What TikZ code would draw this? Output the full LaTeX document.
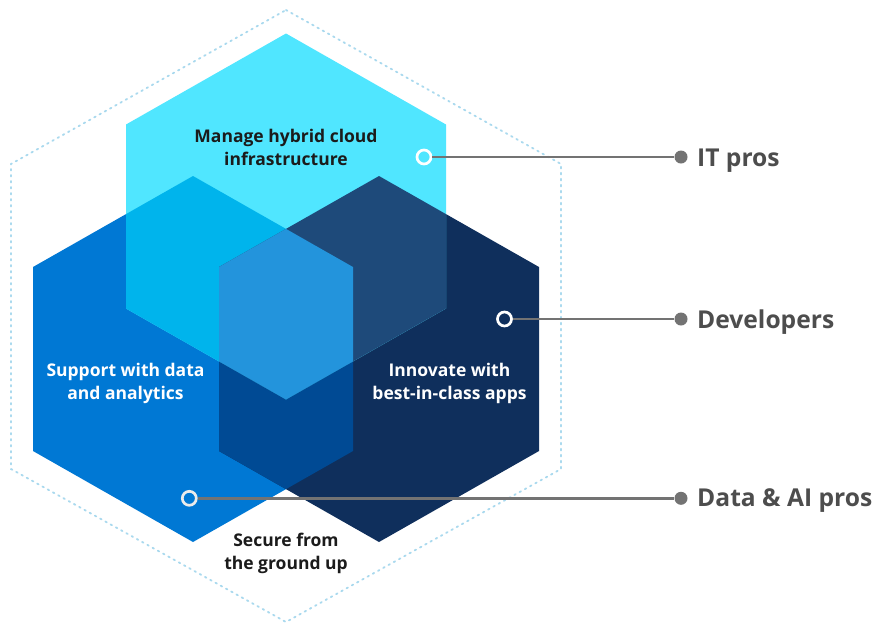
\documentclass[tikz,border=0pt]{standalone}
\usepackage{fontspec}
\setmainfont{Open Sans}
\definecolor{cC}{HTML}{50E6FF}
\definecolor{cL}{HTML}{0078D4}
\definecolor{cR}{HTML}{0F2F5C}
\definecolor{cCL}{HTML}{00B4EC}
\definecolor{cCR}{HTML}{1E4A7A}
\definecolor{cLR}{HTML}{004A94}
\definecolor{cLRC}{HTML}{2394DC}
\definecolor{dashc}{HTML}{A9D9EE}
\definecolor{linec}{HTML}{737373}
\definecolor{labc}{HTML}{4D4D4D}
\definecolor{darktxt}{HTML}{1B1B1B}
\def\hexat#1#2{(#1,#2) -- (#1+160,#2+91) -- (#1+160,#2+275) -- (#1,#2+366) -- (#1-160,#2+275) -- (#1-160,#2+91) -- cycle}
\def\hexC{\hexat{286}{33.5}}
\def\hexL{\hexat{193}{176}}
\def\hexR{\hexat{379}{176}}
\begin{document}
\begin{tikzpicture}[x=1pt,y=-1pt,
  outerhex/.style={draw=dashc, line width=1.8pt, dash pattern=on 1.6pt off 4.4pt, line cap=round},
  hextxt/.style={font=\bfseries\fontsize{17.5}{22}\selectfont, anchor=base, inner sep=0pt},
  ring/.style={circle, draw=white, line width=2.7pt, minimum size=14pt, inner sep=0pt},
  dotn/.style={circle, fill=linec, minimum size=13pt, inner sep=0pt},
  conn/.style={draw=linec, line width=2.8pt},
  lbl/.style={font=\bfseries\fontsize{24.6}{30}\selectfont, text=labc, anchor=base west, inner sep=0pt}]
\useasboundingbox (0,0) rectangle (877,625);
\fill[white] (0,0) rectangle (877,625);
% outer dashed hexagon
\draw[outerhex] (286,10) -- (561,164) -- (561,469) -- (286,622) -- (11,469) -- (11,164) -- cycle;
% hexagons
\fill[cL] \hexL;
\fill[cR] \hexR;
\fill[cC] \hexC;
\begin{scope}\clip \hexL; \fill[cLR] \hexR; \end{scope}
\begin{scope}\clip \hexL; \fill[cCL] \hexC; \end{scope}
\begin{scope}\clip \hexR; \fill[cCR] \hexC; \end{scope}
\begin{scope}\clip \hexL; \clip \hexR; \fill[cLRC] \hexC; \end{scope}
% texts
\node[hextxt, text=darktxt] (m1) at (286,142.7) {Manage hybrid cloud};
\node[hextxt, text=darktxt] (m2) at (286,165.7) {infrastructure};
\node[hextxt, text=white] (s1) at (125.5,376.7) {Support with data};
\node[hextxt, text=white] (s2) at (125.5,399.7) {and analytics};
\node[hextxt, text=white] (i1) at (449.5,376.7) {Innovate with};
\node[hextxt, text=white] (i2) at (449.5,399.7) {best-in-class apps};
\node[hextxt, text=darktxt] (g1) at (286,546.7) {Secure from};
\node[hextxt, text=darktxt] (g2) at (286,569.7) {the ground up};
% connectors
\node[ring] (rIT) at (424,157) {};
\node[ring] (rDev) at (504.5,319) {};
\node[ring, draw=white!92!black] (rData) at (189.3,498.3) {};
\node[dotn] (dIT) at (681,157) {};
\node[dotn] (dDev) at (681,319) {};
\node[dotn] (dData) at (681,498.3) {};
\draw[conn] (rIT) -- (dIT);
\draw[conn] (rDev) -- (dDev);
\draw[conn] (rData) -- (dData);
\node[lbl] (lIT) at (697,166.5) {IT pros};
\node[lbl] (lDev) at (697,328.3) {Developers};
\node[lbl] (lData) at (697,506.7) {Data \& AI pros};
\end{tikzpicture}
\end{document}
